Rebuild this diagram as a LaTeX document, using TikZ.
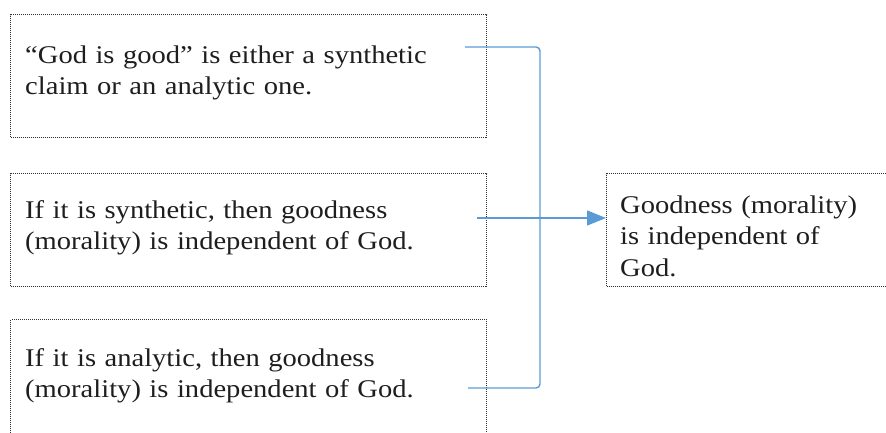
\documentclass[tikz,border=0pt]{standalone}
\usepackage{fontspec}
\setmainfont{Liberation Serif}[FakeStretch=1.12]
\usetikzlibrary{arrows.meta}
\definecolor{conncol}{HTML}{5B9BD5}
\definecolor{txtcol}{HTML}{1E1E1E}
\definecolor{dotcol}{HTML}{303030}
\begin{document}
\begin{tikzpicture}[x=1pt,y=-1pt,
  box/.style={draw=dotcol, line width=1.2pt, dash pattern=on 1pt off 1pt, inner sep=0pt, anchor=north west},
  txt/.style={inner sep=0pt, anchor=base west, align=left, text=txtcol, font=\fontsize{25.5}{31.5}\selectfont},
  conn/.style={draw=conncol, line width=1.4pt, rounded corners=4pt}]
\useasboundingbox (0,0) rectangle (886,432);
\node[box, minimum width=476, minimum height=123] (b1) at (10,14) {};
\node[box, minimum width=476, minimum height=113] (b2) at (10,173) {};
\node[box, minimum width=476, minimum height=130] (b3) at (10,319) {};
\node[box, minimum width=300, minimum height=113] (rb) at (606,173) {};
\node[txt, text width=460] (t1) at (25,63) {“God is good” is either a synthetic\\claim or an analytic one.};
\node[txt, text width=460] (t2) at (25,218) {If it is synthetic, then goodness\\(morality) is independent of God.};
\node[txt, text width=460] (t3) at (25,366) {If it is analytic, then goodness\\(morality) is independent of God.};
\node[txt, text width=260] (t4) at (620,213) {Goodness (morality)\\is independent of\\God.};
\coordinate (c1) at (465,47);
\coordinate (c2) at (477,218);
\coordinate (c3) at (468,388);
\coordinate (j) at (540,218);
\draw[conn] (c1) -| (j);
\draw[conn] (c3) -| (j);
\draw[conn, -{Triangle[length=19pt,width=15pt]}] (c2) -- (c2 -| rb.west);
\end{tikzpicture}
\end{document}
